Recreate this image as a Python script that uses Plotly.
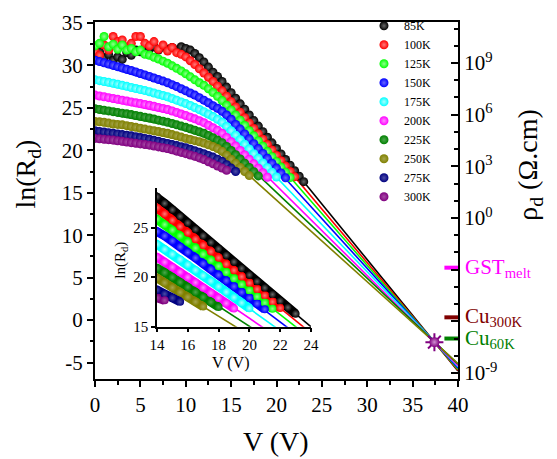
import math
import plotly.graph_objects as go

FONT = "Liberation Serif"

# ---------------- data ----------------
V_GRID = [0.0, 0.5, 1.0, 1.5, 2.0, 2.5, 3.0, 3.5, 4.0, 4.5, 5.0, 5.5, 6.0, 6.5, 7.0, 7.5,
          8.0, 8.5, 9.0, 9.5, 10.0, 10.5, 11.0, 11.5, 12.0, 12.5, 13.0, 13.5, 14.0, 14.5,
          15.0, 15.5, 16.0, 16.5, 17.0, 17.5, 18.0, 18.5, 19.0, 19.5, 20.0, 20.5, 21.0,
          21.5, 22.0, 22.5, 23.0]

TEMPS = ["85K", "100K", "125K", "150K", "175K", "200K", "225K", "250K", "275K", "300K"]
COLORS = ["#000000", "#FF0000", "#00FF00", "#0000FF", "#00FFFF", "#FF00FF",
          "#008000", "#808000", "#000080", "#800080"]
CENTER_COLORS = ["#6a6a6a", "#ff7a7a", "#90ff90", "#6a6aff", "#a8ffff", "#ff8cff",
                 "#4da64d", "#a6a64d", "#4d4da6", "#a64da6"]

LN_85K = [31.4, 31.6, 30.9, 31.3, 30.6, 31.0, 30.7, 31.5, 31.2, 31.8, 31.6, 32.1, 31.9, 32.2,
          31.8, 32.2, 31.9, 32.1, 31.8, 32.2, 32.0, 31.8, 31.4, 30.9, 30.4, 29.8, 29.2, 28.7,
          28.1, 27.44, 26.79, 26.13, 25.47, 24.82, 24.16, 23.5, 22.85, 22.19, 21.53, 20.88,
          20.22, 19.56, 18.91, 18.25, 17.59, 16.94, 16.3]
LN_100K = [31.6, 31.2, 32.4, 31.8, 33.4, 32.8, 33.0, 32.2, 32.6, 33.4, 33.4, 32.6, 32.3, 32.8,
           31.9, 32.4, 31.7, 32.1, 31.5, 31.3, 31.0, 30.55, 30.1, 29.6, 29.1, 28.6, 28.1, 27.55,
           27.0, 26.37, 25.73, 25.1, 24.47, 23.83, 23.2, 22.57, 21.94, 21.3, 20.67, 20.04,
           19.4, 18.77, 18.14, 17.5, 16.87]
LN_125K = [32.3, 32.6, 33.4, 32.2, 32.5, 31.9, 32.4, 31.8, 32.0, 31.6, 31.8, 31.3, 31.2, 30.95,
           30.75, 30.5, 30.25, 29.95, 29.65, 29.35, 29.0, 28.65, 28.3, 27.95, 27.65, 27.25,
           26.8, 26.35, 25.85, 25.3, 24.75, 24.15, 23.55, 22.93, 22.3, 21.7, 21.1, 20.48,
           19.85, 19.25, 18.65, 18.02, 17.4, 16.8]
LN_150K = [30.6, 30.45, 30.3, 30.15, 30.0, 29.85, 29.7, 29.55, 29.4, 29.23, 29.05, 28.88, 28.7,
           28.52, 28.33, 28.15, 27.95, 27.73, 27.5, 27.25, 27.0, 26.75, 26.5, 26.2, 25.9, 25.6,
           25.25, 24.95, 24.6, 24.15, 23.65, 23.05, 22.5, 21.93, 21.35, 20.78, 20.2, 19.63,
           19.05, 18.47, 17.9, 17.32, 16.75]
LN_175K = [28.3, 28.2, 28.1, 28.0, 27.9, 27.78, 27.65, 27.53, 27.4, 27.28, 27.15, 27.03, 26.9,
           26.75, 26.6, 26.45, 26.3, 26.1, 25.9, 25.7, 25.5, 25.27, 25.03, 24.8, 24.55, 24.27,
           23.97, 23.65, 23.3, 22.8, 22.3, 21.78, 21.25, 20.7, 20.15, 19.6, 19.05, 18.5, 17.95,
           17.4, 16.85]
LN_200K = [26.5, 26.4, 26.3, 26.2, 26.1, 26.0, 25.9, 25.8, 25.7, 25.6, 25.5, 25.4, 25.3, 25.18,
           25.05, 24.93, 24.8, 24.63, 24.45, 24.28, 24.1, 23.9, 23.7, 23.48, 23.25, 22.95,
           22.65, 22.35, 22.0, 21.5, 21.0, 20.5, 19.98, 19.45, 18.93, 18.4, 17.88, 17.35, 16.83]
LN_225K = [24.9, 24.81, 24.72, 24.64, 24.55, 24.46, 24.37, 24.29, 24.2, 24.1, 24.0, 23.9, 23.8,
           23.68, 23.55, 23.43, 23.3, 23.15, 23.0, 22.85, 22.7, 22.53, 22.36, 22.18, 22.0,
           21.75, 21.48, 21.2, 20.9, 20.45, 19.98, 19.48, 18.98, 18.48, 17.98, 17.48, 16.98]
LN_250K = [23.4, 23.35, 23.3, 23.2, 23.1, 23.05, 23.0, 22.9, 22.8, 22.7, 22.6, 22.5, 22.4, 22.3,
           22.2, 22.1, 22.0, 21.85, 21.7, 21.55, 21.4, 21.27, 21.13, 21.0, 20.85, 20.65, 20.45,
           20.2, 19.9, 19.42, 18.94, 18.46, 17.98, 17.5, 17.02]
LN_275K = [22.3, 22.22, 22.15, 22.07, 22.0, 21.92, 21.85, 21.77, 21.7, 21.6, 21.5, 21.4, 21.3,
           21.17, 21.05, 20.92, 20.8, 20.67, 20.55, 20.42, 20.3, 20.13, 19.95, 19.78, 19.6,
           19.4, 19.2, 18.95, 18.7, 18.3, 17.9, 17.5]
LN_300K = [21.4, 21.35, 21.3, 21.25, 21.2, 21.12, 21.05, 20.97, 20.9, 20.83, 20.75, 20.68, 20.6,
           20.5, 20.4, 20.3, 20.2, 20.05, 19.9, 19.75, 19.6, 19.45, 19.3, 19.1, 18.9, 18.65,
           18.4, 18.15, 17.9, 17.65]
SERIES = [LN_85K, LN_100K, LN_125K, LN_150K, LN_175K, LN_200K, LN_225K, LN_250K, LN_275K, LN_300K]
NOISY = [True, True, True, False, False, False, False, False, False, False]

# linear fits (ln R at V = 14 and V = 40) for 85K ... 250K
FIT_V = [14.0, 40.0]
FIT_LN = [[28.1, -6.0], [27.0, -5.9], [26.0, -5.8], [24.85, -5.65],
          [23.5, -5.46], [22.2, -5.36], [21.1, -5.19], [19.9, -5.11]]

# convergence point
STAR_V = [37.4]
STAR_LN = [-2.6]

# reference resistivities (right axis)
REF_NAMES = ["GST<sub>melt</sub>", "Cu<sub>300K</sub>", "Cu<sub>60K</sub>"]
REF_RHO = [1.3e-3, 1.7e-6, 1.0e-7]
REF_COLORS = ["#FF00FF", "#800000", "#008000"]

X_TICKS = [0, 5, 10, 15, 20, 25, 30, 35, 40]
Y_TICKS = [-5, 0, 5, 10, 15, 20, 25, 30, 35]
Y_TICKTEXT = ["-5", "0", "5", "10", "15", "20", "25", "30", "35"]
RHO_TICKS = [1e-9, 1e-6, 1e-3, 1e0, 1e3, 1e6, 1e9]
RHO_TICKTEXT = ["10<sup>-9</sup>", "", "", "10<sup>0</sup>", "10<sup>3</sup>",
                "10<sup>6</sup>", "10<sup>9</sup>"]
RHO_MINOR = [10.0 ** k for k in range(-9, 12) if k % 3 != 0]
INSET_X_TICKS = [14, 16, 18, 20, 22, 24]
INSET_Y_TICKS = [15, 20, 25]


def f(size, color="black"):
    return dict(family=FONT, size=size, color=color)


# ---------------- figure ----------------
fig = go.Figure()

# fit lines in main plot and inset
for i, ln in enumerate(FIT_LN):
    for xa, ya in (("x", "y"), ("x2", "y3")):
        fig.add_trace(go.Scatter(x=FIT_V, y=ln, mode="lines", xaxis=xa, yaxis=ya,
                                 line=dict(color=COLORS[i], width=1.6),
                                 showlegend=False, hoverinfo="skip"))

# thick bands under the points (smooth series in the main plot, all in the inset)
for i, ln in enumerate(SERIES):
    if not NOISY[i]:
        fig.add_trace(go.Scatter(x=V_GRID[:len(ln)], y=ln, mode="lines", xaxis="x",
                                 yaxis="y", showlegend=False, hoverinfo="skip",
                                 line=dict(color=COLORS[i], width=7)))
    fig.add_trace(go.Scatter(x=V_GRID[:len(ln)], y=ln, mode="lines", xaxis="x2",
                             yaxis="y3", showlegend=False, hoverinfo="skip",
                             line=dict(color=COLORS[i], width=9)))

# data points: main plot (legend) and inset
for i, ln in enumerate(SERIES):
    mk = dict(size=9, color=COLORS[i],
              gradient=dict(type="radial", color=CENTER_COLORS[i]), line=dict(width=0))
    fig.add_trace(go.Scatter(x=V_GRID[:len(ln)], y=ln, mode="markers", name=TEMPS[i],
                             xaxis="x", yaxis="y", marker=mk))
for i, ln in enumerate(SERIES):
    mk = dict(size=8, color=COLORS[i],
              gradient=dict(type="radial", color=CENTER_COLORS[i]), line=dict(width=0))
    fig.add_trace(go.Scatter(x=V_GRID[:len(ln)], y=ln, mode="markers", xaxis="x2",
                             yaxis="y3", showlegend=False, marker=mk))

# convergence star
fig.add_trace(go.Scatter(x=STAR_V, y=STAR_LN, mode="markers", showlegend=False,
                         marker=dict(symbol="asterisk-open", size=15, color="#800080",
                                     line=dict(width=2, color="#800080"))))
fig.add_trace(go.Scatter(x=STAR_V, y=STAR_LN, mode="markers", showlegend=False,
                         marker=dict(symbol="circle", size=10, color="#800080",
                                     gradient=dict(type="radial", color="#d090d0"))))

# reference bars on the right axis
fig.add_trace(go.Scatter(x=[39.35] * len(REF_RHO), y=REF_RHO, mode="markers",
                         xaxis="x", yaxis="y2", showlegend=False,
                         marker=dict(symbol="line-ew", size=11, color=REF_COLORS,
                                     line=dict(width=4, color=REF_COLORS))))

axis_common = dict(showgrid=False, zeroline=False, showline=True, linecolor="black",
                   tickcolor="black")

annotations = [
    dict(text="V (V)", x=0.4986, y=-0.174, xref="paper", yref="paper", showarrow=False,
         xanchor="center", yanchor="middle", font=f(28)),
    dict(text="ln(R<sub>d</sub>)", x=-0.187, y=0.573, xref="paper", yref="paper",
         showarrow=False, textangle=-90, xanchor="center", yanchor="middle", font=f(28)),
    dict(text="ρ<sub>d</sub> (Ω.cm)", x=1.198, y=0.600, xref="paper", yref="paper",
         showarrow=False, textangle=-90, xanchor="center", yanchor="middle", font=f(28)),
    dict(text="V (V)", x=0.372, y=0.044, xref="paper", yref="paper", showarrow=False,
         xanchor="center", yanchor="middle", font=f(16)),
    dict(text="ln(R<sub>d</sub>)", x=0.0716, y=0.334, xref="paper", yref="paper",
         showarrow=False, textangle=-90, xanchor="center", yanchor="middle", font=f(15)),
]
for name, rho, col in zip(REF_NAMES, REF_RHO, REF_COLORS):
    annotations.append(dict(text=name, x=1.013, y=math.log10(rho), xref="paper", yref="y2",
                            showarrow=False, xanchor="left", yanchor="middle",
                            font=f(21, col)))

fig.update_layout(
    width=557, height=459,
    margin=dict(l=95, r=99, t=11, b=80),
    paper_bgcolor="white", plot_bgcolor="rgba(0,0,0,0)",
    font=f(21),
    xaxis=dict(range=[0, 40], tickmode="array", tickvals=X_TICKS, ticks="outside",
               ticklen=6, tickwidth=2, linewidth=2, mirror=True, domain=[0, 1], anchor="y",
               tickfont=f(21),
               minor=dict(ticks="outside", ticklen=3.5, tickwidth=1.5, dtick=2.5, tick0=0),
               **axis_common),
    yaxis=dict(range=[-6.94, 35.11], tickmode="array", tickvals=Y_TICKS, ticktext=Y_TICKTEXT,
               ticks="outside", ticklen=6, tickwidth=2, linewidth=2, anchor="x",
               tickfont=f(21),
               minor=dict(ticks="outside", ticklen=3.5, tickwidth=1.5, dtick=2.5, tick0=0),
               **axis_common),
    yaxis2=dict(overlaying="y", side="right", anchor="x", type="log",
                range=[-9.35, 11.38], tickmode="array", tickvals=RHO_TICKS,
                ticktext=RHO_TICKTEXT, ticks="inside", ticklen=7, tickwidth=2, linewidth=2,
                tickfont=f(21),
                minor=dict(ticks="inside", ticklen=4, tickwidth=1.5, tickmode="array",
                           tickvals=RHO_MINOR),
                **axis_common),
    xaxis2=dict(domain=[0.1708, 0.595], anchor="y3", range=[14, 24], tickmode="array",
                tickvals=INSET_X_TICKS, ticks="outside", ticklen=4, tickwidth=1.5,
                linewidth=1.5, tickfont=f(15), **axis_common),
    yaxis3=dict(domain=[0.1467, 0.5353], anchor="x2", range=[15, 29], tickmode="array",
                tickvals=INSET_Y_TICKS, ticks="outside", ticklen=4, tickwidth=1.5,
                linewidth=1.5, tickfont=f(15), **axis_common),
    legend=dict(x=0.741, xanchor="left", y=1.03, yanchor="top", bgcolor="rgba(0,0,0,0)",
                font=f(12), tracegroupgap=0, itemwidth=30),
    annotations=annotations,
)

fig.write_html("out.html")
